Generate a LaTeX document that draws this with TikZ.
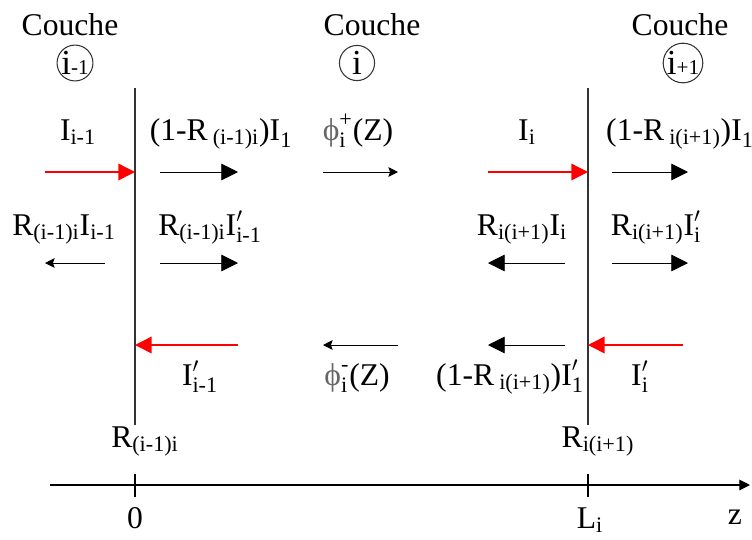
\documentclass[tikz,border=0pt]{standalone}
\usepackage{fontspec}
\setmainfont{Liberation Serif}
\usepackage{amsmath}
\usepackage{tikz}
\usetikzlibrary{arrows.meta}

\tikzset{
  lbl/.style={font=\fontsize{18}{21}\selectfont, inner sep=0pt, anchor=base},
  layernum/.style={circle, draw=black!80, line width=0.6pt, inner sep=0pt,
                   minimum size=20pt, font=\fontsize{20}{23}\selectfont},
  interface/.style={black!80, line width=0.8pt},
  bigarrow/.style={-{Triangle[length=9.5pt,width=9.5pt]}, line width=0.5pt},
  thinarrow/.style={-{Stealth[length=5.5pt,width=5.5pt,inset=1pt]}, line width=0.5pt},
  redarrow/.style={-{Triangle[length=9.5pt,width=9.5pt]}, red, line width=0.8pt},
  axisline/.style={-{Triangle[length=6pt,width=6pt]}, line width=0.6pt}
}
\newcommand{\phisym}{\textcolor{black!60}{ϕ}}
\newcommand{\layeridx}[1]{{\fontsize{12}{14}\selectfont #1}}

\begin{document}
\begin{tikzpicture}[x=0.02cm, y=-0.02cm]
\useasboundingbox (0,0) rectangle (752,539);

% Layers
\node[lbl] (cprev) at (70,35) {Couche};
\node[lbl] (ccur) at (372,35) {Couche};
\node[lbl] (cnext) at (680,35) {Couche};
\node[layernum] (nprev) at (75,63) {i\layeridx{-1}};
\node[layernum] (ncur) at (357,63) {i};
\node[layernum] (nnext) at (683,63) {i\layeridx{+1}};

% Interfaces
\coordinate (ftop) at (135,88);
\coordinate (fbot) at (135,425);
\coordinate (gtop) at (588,88);
\coordinate (gbot) at (588,425);
\draw[interface] (ftop) -- (fbot);
\draw[interface] (gtop) -- (gbot);

% First row: incident and transmitted fluxes
\node[lbl] (inprev) at (78,140) {$\text{I}_{\text{i-1}}$};
\node[lbl] (trprev) at (221,140) {$\text{(1-R}\,{}_{\text{(i-1)i}}\text{)I}_{\text{1}}$};
\node[lbl] (phiplus) at (358,140) {$\text{\phisym}^{\text{+}}_{\text{i}}\text{(Z)}$};
\node[lbl] (incur) at (527,140) {$\text{I}_{\text{i}}$};
\node[lbl] (trcur) at (680,140) {$\text{(1-R}\,{}_{\text{i(i+1)}}\text{)I}_{\text{1}}$};

\coordinate (a1) at (45,172);   \coordinate (f1) at (135,172);
\coordinate (a2) at (160,172);  \coordinate (b2) at (238,172);
\coordinate (a3) at (323,172);  \coordinate (b3) at (398,172);
\coordinate (a4) at (488,172);  \coordinate (g1) at (588,172);
\coordinate (a5) at (612,172);  \coordinate (b5) at (688,172);
\draw[redarrow] (a1) -- (f1);
\draw[bigarrow] (a2) -- (b2);
\draw[thinarrow] (a3) -- (b3);
\draw[redarrow] (a4) -- (g1);
\draw[bigarrow] (a5) -- (b5);

% Second row: reflected fluxes
\node[lbl] (rfprev) at (64,235) {$\text{R}_{\text{(i-1)i}}\text{I}_{\text{i-1}}$};
\node[lbl] (rbprev) at (210,235) {$\text{R}_{\text{(i-1)i}}\text{I}'_{\text{i-1}}$};
\node[lbl] (rfcur) at (522,235) {$\text{R}_{\text{i(i+1)}}\text{I}_{\text{i}}$};
\node[lbl] (rbcur) at (656,235) {$\text{R}_{\text{i(i+1)}}\text{I}'_{\text{i}}$};

\coordinate (c1) at (105,263);  \coordinate (d1) at (45,263);
\coordinate (c2) at (160,263);  \coordinate (d2) at (238,263);
\coordinate (c3) at (565,263);  \coordinate (d3) at (488,263);
\coordinate (c4) at (612,263);  \coordinate (d4) at (688,263);
\draw[thinarrow] (c1) -- (d1);
\draw[bigarrow] (c2) -- (d2);
\draw[bigarrow] (c3) -- (d3);
\draw[bigarrow] (c4) -- (d4);

% Third row: backward fluxes
\coordinate (e1) at (238,345);  \coordinate (f3) at (135,345);
\coordinate (e2) at (398,345);  \coordinate (h2) at (323,345);
\coordinate (e3) at (565,345);  \coordinate (h3) at (488,345);
\coordinate (e4) at (683,345);  \coordinate (g3) at (588,345);
\draw[redarrow] (e1) -- (f3);
\draw[thinarrow] (e2) -- (h2);
\draw[bigarrow] (e3) -- (h3);
\draw[redarrow] (e4) -- (g3);

\node[lbl] (bkprev) at (200,385) {$\text{I}'_{\text{i-1}}$};
\node[lbl] (phiminus) at (357,385) {$\text{\phisym}^{\text{-}}_{\text{i}}\text{(Z)}$};
\node[lbl] (trback) at (510,385) {$\text{(1-R}\,{}_{\text{i(i+1)}}\text{)I}'_{\text{1}}$};
\node[lbl] (bkcur) at (640,385) {$\text{I}'_{\text{i}}$};

% Reflection coefficients
\node[lbl] (rprev) at (145,447) {$\text{R}_{\text{(i-1)i}}$};
\node[lbl] (rcur) at (598,447) {$\text{R}_{\text{i(i+1)}}$};

% z axis
\coordinate (zstart) at (50,485);
\coordinate (zend) at (750,485);
\draw[axisline] (zstart) -- (zend);
\coordinate (t0a) at (135,474);  \coordinate (t0b) at (135,497);
\coordinate (tLa) at (588,474);  \coordinate (tLb) at (588,497);
\draw[line width=0.6pt] (t0a) -- (t0b);
\draw[line width=0.6pt] (tLa) -- (tLb);
\node[lbl] (zero) at (135,528) {0};
\node[lbl] (lend) at (590,528) {$\text{L}_{\text{i}}$};
\node[lbl] (zlab) at (735,524) {z};

\end{tikzpicture}
\end{document}
